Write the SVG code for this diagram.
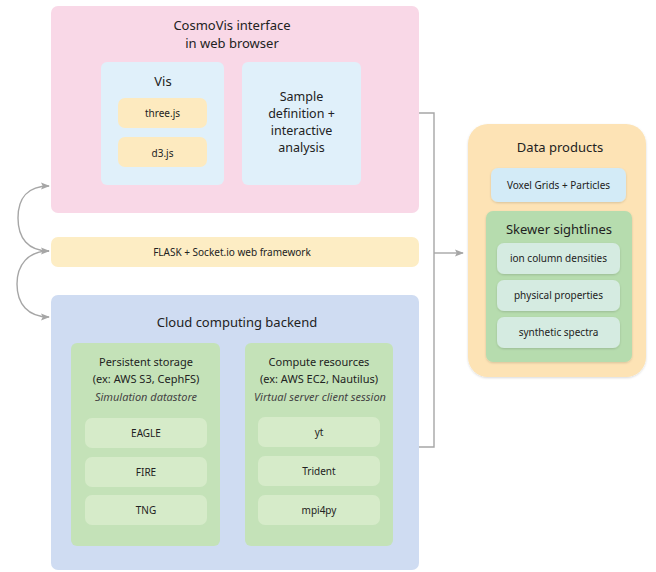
<svg xmlns="http://www.w3.org/2000/svg" width="656" height="572" viewBox="0 0 656 572">
<defs>
<style>
text{font-family:"Noto Sans","Liberation Sans",sans-serif;fill:#222;text-anchor:middle;}
.t13{font-size:13px;}
.t12{font-size:12.5px;}
.t11{font-size:11px;}
.t10{font-size:10px;}
.it{font-style:italic;fill:#444;font-size:11px;}
.conn{fill:none;stroke:#a6a6a6;stroke-width:1.4;}
</style>
<marker id="ah" viewBox="0 0 10 10" refX="9" refY="5" markerWidth="9" markerHeight="9" orient="auto-start-reverse" markerUnits="userSpaceOnUse">
<path d="M0,1 L10,5 L0,9 L2,5 z" fill="#a6a6a6"/>
</marker>
<filter id="sh" x="-10%" y="-10%" width="120%" height="120%">
<feDropShadow dx="0" dy="1" stdDeviation="1.2" flood-color="#000" flood-opacity="0.15"/>
</filter>
</defs>
<rect width="656" height="572" fill="#fff"/>

<g id="browser">
<rect x="51" y="6" width="368" height="207" rx="7" fill="#f9d8e7"/>
<text class="t13" x="232" y="30">CosmoVis interface</text>
<text class="t13" x="232" y="48">in web browser</text>
</g>
<g id="vis">
<rect x="101" y="62" width="123" height="123" rx="6" fill="#e0f0fa"/>
<text class="t13" x="163" y="86">Vis</text>
</g>
<g id="threejs">
<rect x="118" y="98" width="89" height="30" rx="7" fill="#fdeabf"/>
<text class="t10" x="162.5" y="117">three.js</text>
</g>
<g id="d3js">
<rect x="118" y="137" width="89" height="30" rx="7" fill="#fdeabf"/>
<text class="t10" x="162.5" y="157">d3.js</text>
</g>
<g id="sample">
<rect x="242" y="62" width="119" height="123" rx="6" fill="#e0f0fa"/>
<text class="t12" x="301.5" y="101">Sample</text>
<text class="t12" x="301.5" y="118">definition +</text>
<text class="t12" x="301.5" y="135">interactive</text>
<text class="t12" x="301.5" y="152">analysis</text>
</g>

<g id="flask">
<rect x="51" y="237" width="368" height="30" rx="7" fill="#fdedc4"/>
<text class="t10" x="232" y="256">FLASK + Socket.io web framework</text>
</g>

<g id="cloud">
<rect x="51" y="295" width="368" height="275" rx="7" fill="#cfdcf2"/>
<text class="t13" x="237" y="327">Cloud computing backend</text>
</g>
<g id="storage">
<rect x="71" y="343" width="149" height="203" rx="6" fill="#c4e2b8"/>
<text class="t11" x="146" y="366">Persistent storage</text>
<text class="t11" x="146" y="383">(ex: AWS S3, CephFS)</text>
<text class="it" x="146" y="401">Simulation datastore</text>
</g>
<g id="eagle">
<rect x="85" y="418" width="122" height="30" rx="7" fill="#d6ebc9"/>
<text class="t10" x="146" y="437">EAGLE</text>
</g>
<g id="fire">
<rect x="85" y="457" width="122" height="30" rx="7" fill="#d6ebc9"/>
<text class="t10" x="146" y="476">FIRE</text>
</g>
<g id="tng">
<rect x="85" y="495" width="122" height="30" rx="7" fill="#d6ebc9"/>
<text class="t10" x="146" y="514">TNG</text>
</g>
<g id="compute">
<rect x="245" y="343" width="148" height="203" rx="6" fill="#c4e2b8"/>
<text class="t11" x="319" y="366">Compute resources</text>
<text class="t11" x="319" y="383">(ex: AWS EC2, Nautilus)</text>
<text class="it" x="320" y="401">Virtual server client session</text>
</g>
<g id="yt">
<rect x="258" y="417" width="122" height="30" rx="7" fill="#d6ebc9"/>
<text class="t10" x="319" y="436">yt</text>
</g>
<g id="trident">
<rect x="258" y="456" width="122" height="30" rx="7" fill="#d6ebc9"/>
<text class="t10" x="319" y="475">Trident</text>
</g>
<g id="mpi4py">
<rect x="258" y="495" width="122" height="30" rx="7" fill="#d6ebc9"/>
<text class="t10" x="319" y="514">mpi4py</text>
</g>

<g id="dataproducts">
<rect x="468" y="124" width="178" height="253" rx="20" fill="#fde3b5" filter="url(#sh)"/>
<text class="t13" x="560" y="152">Data products</text>
</g>
<g id="voxel">
<rect x="491" y="168" width="135" height="34" rx="7" fill="#d3ebf7" filter="url(#sh)"/>
<text class="t10" x="558.5" y="189">Voxel Grids + Particles</text>
</g>
<g id="skewer">
<rect x="486" y="211" width="146" height="151" rx="7" fill="#b6dcae" filter="url(#sh)"/>
<text class="t13" x="559" y="234">Skewer sightlines</text>
</g>
<g id="ion">
<rect x="497" y="243" width="123" height="31" rx="7" fill="#d5ebe1" filter="url(#sh)"/>
<text class="t10" x="558.5" y="262">ion column densities</text>
</g>
<g id="physical">
<rect x="497" y="280" width="123" height="31" rx="7" fill="#d5ebe1" filter="url(#sh)"/>
<text class="t10" x="558.5" y="299">physical properties</text>
</g>
<g id="synthetic">
<rect x="497" y="317" width="123" height="31" rx="7" fill="#d5ebe1" filter="url(#sh)"/>
<text class="t10" x="558.5" y="336">synthetic spectra</text>
</g>

<g id="connectors">
<path class="conn" d="M419,113 H434 V447 H419"/>
<path class="conn" d="M434,253 H463" marker-end="url(#ah)"/>
<path class="conn" d="M49,186 C28,186 18,198 18,218 C18,238 28,251 49,251" marker-start="url(#ah)" marker-end="url(#ah)"/>
<path class="conn" d="M49,251 C28,251 17,265 17,284 C17,304 28,317 49,317" marker-end="url(#ah)"/>
</g>
</svg>
